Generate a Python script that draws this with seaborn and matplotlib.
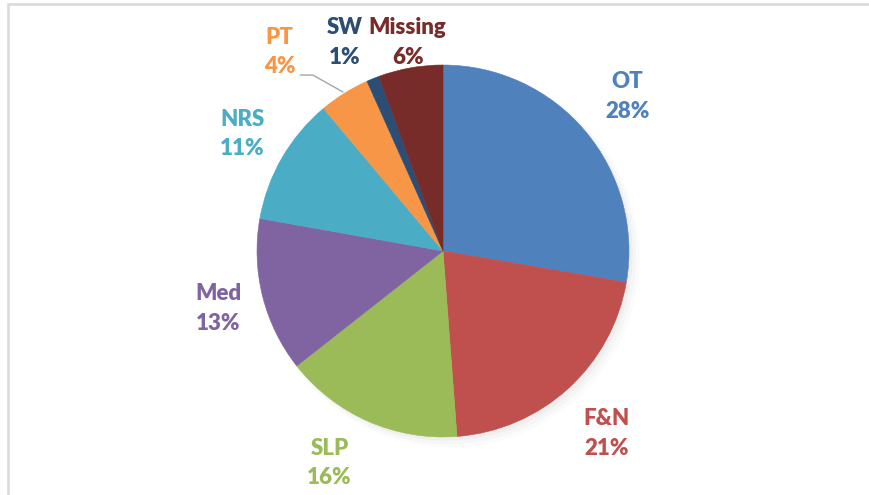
import matplotlib
matplotlib.use("Agg")
import matplotlib.pyplot as plt
import matplotlib.patches as mpatches
import seaborn as sns

# data (percent of total), clockwise from 12 o'clock
categories = ["OT", "F&N", "SLP", "Med", "NRS", "PT", "SW", "Missing"]
shares = [27.7, 21.1, 15.6, 13.4, 11.1, 4.4, 1.1, 5.6]
colors = ["#4F81BD", "#C0504D", "#9BBB59", "#8064A2", "#4BACC6", "#F79646", "#2C4D75", "#772C2A"]

# label anchor points (pie radius = 1), as Excel placed them
label_pos = {
    "OT": (0.99, 0.83),
    "F&N": (0.88, -0.98),
    "SLP": (-0.61, -1.14),
    "Med": (-1.21, -0.31),
    "NRS": (-1.08, 0.63),
    "PT": (-0.88, 1.07),
    "SW": (-0.53, 1.12),
    "Missing": (-0.19, 1.12),
}

sns.set_theme(style="white")
plt.rcParams["font.family"] = ["Lato", "DejaVu Sans"]
palette = sns.color_palette(colors)

fig = plt.figure(figsize=(8.7, 4.95), dpi=100)
ax = fig.add_axes([0, 0, 1, 1])

# soft shadow behind the pie
for i, a in enumerate([0.05, 0.04, 0.03]):
    ax.add_patch(mpatches.Circle((0.02 + i * 0.01, -0.02 - i * 0.01), 1.0 + i * 0.008,
                                 color="#808080", alpha=a, lw=0, zorder=0))

wedges, _ = ax.pie(shares, colors=palette, startangle=90, counterclock=False,
                   radius=1.0, center=(0, 0), frame=True,
                   wedgeprops=dict(linewidth=0.4, edgecolor="none"))
for w, c in zip(wedges, palette):
    w.set_edgecolor(c)
    w.set_zorder(2)

for cat, val, c in zip(categories, shares, palette):
    x, y = label_pos[cat]
    ax.text(x, y, f"{cat}\n{val:.0f}%", color=c, fontsize=16, fontweight="heavy",
            ha="center", va="center", linespacing=1.5, zorder=3)

# leader line for PT
ax.plot([-0.767, -0.70, -0.538], [0.946, 0.946, 0.855], color="#A6A6A6", lw=1.0, zorder=3)

ax.set_xlim(-443 / 186, (870 - 443) / 186)
ax.set_ylim(-244 / 186, 251 / 186)
ax.set_aspect("auto")
ax.axis("off")

# chart area border (cropped at the right and bottom)
fig.patches.append(mpatches.Rectangle((8 / 870, -0.2), 1.2, 1.2 - 4 / 495,
                                      transform=fig.transFigure, fill=False,
                                      edgecolor="#D9D9D9", lw=1.8))

fig.savefig("out.png", dpi=100)
